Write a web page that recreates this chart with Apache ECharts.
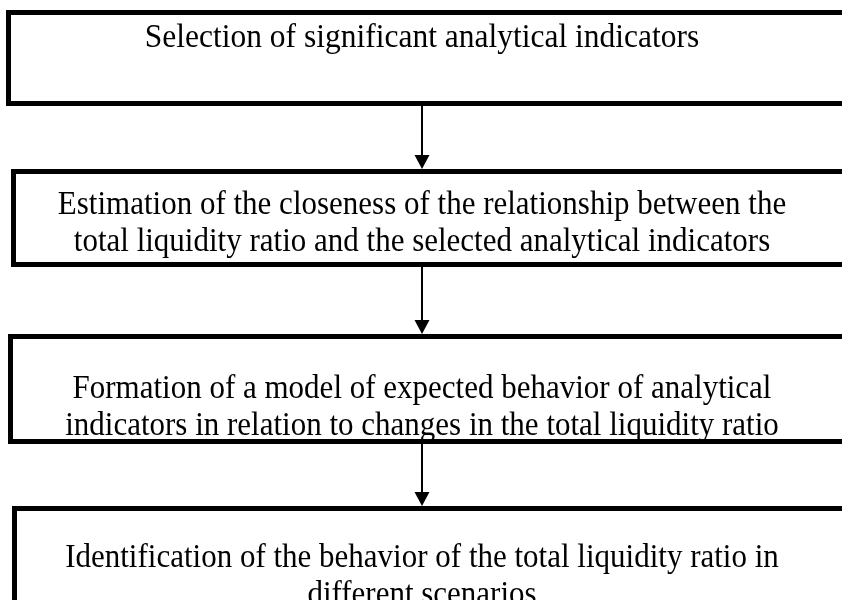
<!DOCTYPE html>
<html>
<head>
<meta charset="utf-8">
<script src="https://cdn.jsdelivr.net/npm/echarts@6/dist/echarts.min.js"></script>
<style>
  html, body { margin: 0; padding: 0; background: #fff; }
  #main { width: 842px; height: 600px; }
</style>
</head>
<body>
<div id="main"></div>
<script>
// flowchart steps, top to bottom
const stepLabels = [
  'Selection of significant analytical indicators',
  'Estimation of the closeness of the relationship between the\ntotal liquidity ratio and the selected analytical indicators',
  'Formation of a model of expected behavior of analytical\nindicators in relation to changes in the total liquidity ratio',
  'Identification of the behavior of the total liquidity ratio in\ndifferent scenarios'
]
// arrows: from step -> to step
const arrowFrom = [0, 1, 2]
const arrowTo = [1, 2, 3]

// layout (page units, y downwards)
const boxLeft = [8.5, 13.5, 10.5, 14.5]
const boxTop = [12.5, 171.5, 336.5, 508.5]
const boxBottom = [103.5, 264.5, 441.5, 660]
const boxRight = 900
const textY = [38, 205, 389, 558]
const fontSizes = [31.5, 31, 31, 31]
const arrowX = 422
const lineGap = 34

const chart = echarts.init(document.getElementById('main'))

function renderBox(params, api) {
  const i = params.dataIndex
  const p0 = api.coord([boxLeft[i], boxTop[i]])
  const p1 = api.coord([boxRight, boxBottom[i]])
  const t = api.coord([arrowX, textY[i]])
  return {
    type: 'group',
    children: [
      {
        type: 'rect',
        shape: { x: p0[0], y: p0[1], width: p1[0] - p0[0], height: p1[1] - p0[1] },
        style: { fill: '#fff', stroke: '#000', lineWidth: 5 }
      },
      {
        type: 'text',
        originX: t[0],
        originY: t[1],
        scaleY: 1.08,
        style: {
          text: stepLabels[i],
          x: t[0],
          y: t[1] - lineGap / 2,
          align: 'center',
          verticalAlign: 'top',
          lineHeight: lineGap,
          fontFamily: '"Liberation Serif", "Times New Roman", serif',
          fontSize: fontSizes[i],
          fill: '#000'
        }
      }
    ]
  }
}

function renderArrow(params, api) {
  const i = params.dataIndex
  const a = api.coord([arrowX, boxBottom[arrowFrom[i]] + 2.5])
  const b = api.coord([arrowX, boxTop[arrowTo[i]] - 2.5])
  const headH = 14
  const headW = 7.5
  return {
    type: 'group',
    children: [
      {
        type: 'line',
        shape: { x1: a[0], y1: a[1], x2: b[0], y2: b[1] - headH + 1 },
        style: { stroke: '#000', lineWidth: 2 }
      },
      {
        type: 'polygon',
        shape: { points: [[b[0] - headW, b[1] - headH], [b[0] + headW, b[1] - headH], [b[0], b[1]]] },
        style: { fill: '#000' }
      }
    ]
  }
}

const option = {
  animation: false,
  backgroundColor: '#fff',
  grid: { left: 0, right: 0, top: 0, bottom: 0 },
  xAxis: { type: 'value', min: 0, max: 842, show: false },
  yAxis: { type: 'value', min: 0, max: 600, inverse: true, show: false },
  series: [
    {
      type: 'custom',
      renderItem: renderArrow,
      data: arrowFrom.map((f, i) => [f, i]),
      z: 1
    },
    {
      type: 'custom',
      renderItem: renderBox,
      data: stepLabels.map((s, i) => [i, i]),
      z: 2
    }
  ]
}
chart.setOption(option)
</script>
</body>
</html>
